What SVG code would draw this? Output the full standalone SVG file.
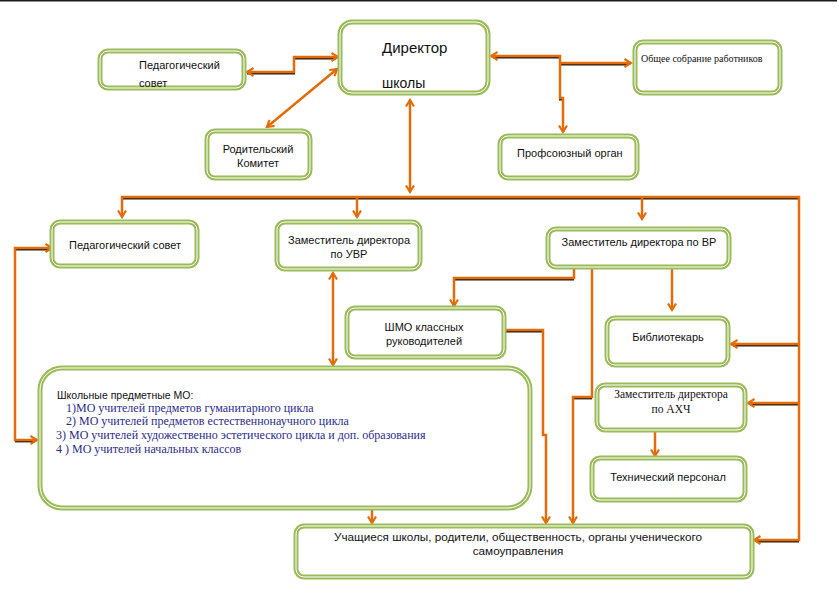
<svg xmlns="http://www.w3.org/2000/svg" width="839" height="593" viewBox="0 0 839 593">
<style>
.box{fill:#fff;stroke:#9BBB59;stroke-width:5}
.inner{fill:none;stroke:#fff;stroke-width:1}
.t{font-family:"Liberation Sans",Arial,sans-serif;font-size:11px;fill:#111}
.s{font-family:"Liberation Serif","Times New Roman",serif;font-size:11.5px;fill:#111}
.b{font-family:"Liberation Serif","Times New Roman",serif;font-size:12px;fill:#2b2b8c}
.c{fill:none;stroke:#E36C0A;stroke-width:2.5;stroke-linejoin:miter}
.sh{fill:none;stroke:#2a1a0a;stroke-width:2}
</style>
<defs>
<marker id="ah" viewBox="0 0 10 10" refX="8" refY="5" markerWidth="10" markerHeight="10" markerUnits="userSpaceOnUse" orient="auto-start-reverse">
<path d="M1.5,1 L8,5 L1.5,9" fill="none" stroke="#E36C0A" stroke-width="2.2"/>
</marker>
</defs>
<rect x="0" y="0" width="837" height="1.5" fill="#1a1a1a"/>
<g id="connectors">
<g transform="translate(0,1.4)">
<path class="sh" d="M247,72 H294 V57 H336"/>
<path class="sh" d="M494,56 H560 V98 H563"/>
<path class="sh" d="M560,63 H628"/>
<path class="sh" d="M122,197 H799"/>
<path class="sh" d="M54,248 H15"/>
<path class="sh" d="M15,440 H35"/>
<path class="sh" d="M574,278 H454"/>
<path class="sh" d="M504,330 H543"/>
<path class="sh" d="M799,344 H733"/>
<path class="sh" d="M799,403 H750"/>
<path class="sh" d="M799,540 H757"/>
<path class="sh" d="M592,397 H573"/>
</g>
<path class="c" d="M247,72 H294 V57 H338" marker-start="url(#ah)" marker-end="url(#ah)"/>
<path class="c" d="M267,127 L337,69" marker-start="url(#ah)" marker-end="url(#ah)"/>
<path class="c" d="M410,100 V192" marker-start="url(#ah)" marker-end="url(#ah)"/>
<path class="c" d="M563,132 V98 H560 V56 H491" marker-start="url(#ah)" marker-end="url(#ah)"/>
<path class="c" d="M560,63 H631" marker-end="url(#ah)"/>
<path class="c" d="M122,217 V197 H799 V540 H754" marker-start="url(#ah)" marker-end="url(#ah)"/>
<path class="c" d="M357,197 V217" marker-end="url(#ah)"/>
<path class="c" d="M642,197 V219" marker-end="url(#ah)"/>
<path class="c" d="M799,344 H731" marker-end="url(#ah)"/>
<path class="c" d="M799,403 H748" marker-end="url(#ah)"/>
<path class="c" d="M52,248 H15 V440 H37" marker-start="url(#ah)" marker-end="url(#ah)"/>
<path class="c" d="M333,273 V365" marker-start="url(#ah)" marker-end="url(#ah)"/>
<path class="c" d="M574,268 V278 H454 V306" marker-end="url(#ah)"/>
<path class="c" d="M672,268 V310" marker-end="url(#ah)"/>
<path class="c" d="M592,268 V397 H573 V523" marker-end="url(#ah)"/>
<path class="c" d="M505,330 H543 V435 H546 V523" marker-end="url(#ah)"/>
<path class="c" d="M372,509 V523" marker-end="url(#ah)"/>
<path class="c" d="M655,431 V456" marker-end="url(#ah)"/>
</g>
<g id="director">
<rect class="box" x="340" y="22" width="148" height="71" rx="12"/>
<rect class="inner" x="340" y="22" width="148" height="71" rx="12"/>
<text class="t" x="382" y="53" style="font-size:15px">Директор</text>
<text class="t" x="382" y="88" style="font-size:14px">школы</text>
</g>
<g id="ped-sovet-top">
<rect class="box" x="100" y="51" width="144" height="37" rx="8"/>
<rect class="inner" x="100" y="51" width="144" height="37" rx="8"/>
<text class="t" x="139" y="69">Педагогический</text>
<text class="t" x="139" y="87">совет</text>
</g>
<g id="roditelsky">
<rect class="box" x="207" y="131" width="103" height="47" rx="8"/>
<rect class="inner" x="207" y="131" width="103" height="47" rx="8"/>
<text class="t" x="258" y="153" text-anchor="middle">Родительский</text>
<text class="t" x="258" y="167" text-anchor="middle">Комитет</text>
</g>
<g id="obshchee">
<rect class="box" x="635" y="42" width="145" height="51" rx="8"/>
<rect class="inner" x="635" y="42" width="145" height="51" rx="8"/>
<text class="s" x="641" y="62" style="font-size:10px">Общее собрание работников</text>
</g>
<g id="profsoyuz">
<rect class="box" x="500" y="136" width="137" height="42" rx="8"/>
<rect class="inner" x="500" y="136" width="137" height="42" rx="8"/>
<text class="t" x="517" y="157">Профсоюзный орган</text>
</g>
<g id="ped-sovet">
<rect class="box" x="52" y="222" width="145" height="44" rx="8"/>
<rect class="inner" x="52" y="222" width="145" height="44" rx="8"/>
<text class="t" x="69" y="249">Педагогический совет</text>
</g>
<g id="zam-uvr">
<rect class="box" x="277" y="222" width="143" height="47" rx="8"/>
<rect class="inner" x="277" y="222" width="143" height="47" rx="8"/>
<text class="t" x="349" y="244" text-anchor="middle">Заместитель директора</text>
<text class="t" x="349" y="258" text-anchor="middle">по УВР</text>
</g>
<g id="zam-vr">
<rect class="box" x="548" y="229" width="181" height="38" rx="8"/>
<rect class="inner" x="548" y="229" width="181" height="38" rx="8"/>
<text class="t" x="639" y="246" text-anchor="middle">Заместитель директора по ВР</text>
</g>
<g id="shmo">
<rect class="box" x="347" y="308" width="157" height="49" rx="8"/>
<rect class="inner" x="347" y="308" width="157" height="49" rx="8"/>
<text class="t" x="424" y="331" text-anchor="middle">ШМО классных</text>
<text class="t" x="424" y="345" text-anchor="middle">руководителей</text>
</g>
<g id="bibliotekar">
<rect class="box" x="607" y="318" width="121" height="47" rx="8"/>
<rect class="inner" x="607" y="318" width="121" height="47" rx="8"/>
<text class="t" x="668" y="341" text-anchor="middle">Библиотекарь</text>
</g>
<g id="zam-ahch">
<rect class="box" x="597" y="385" width="148" height="45" rx="8"/>
<rect class="inner" x="597" y="385" width="148" height="45" rx="8"/>
<text class="s" x="671" y="398" text-anchor="middle">Заместитель директора</text>
<text class="s" x="671" y="413" text-anchor="middle">по АХЧ</text>
</g>
<g id="tech">
<rect class="box" x="592" y="458" width="153" height="42" rx="8"/>
<rect class="inner" x="592" y="458" width="153" height="42" rx="8"/>
<text class="t" x="668" y="481" text-anchor="middle">Технический персонал</text>
</g>
<g id="mo">
<rect class="box" x="40" y="368" width="490" height="140" rx="22"/>
<rect class="inner" x="40" y="368" width="490" height="140" rx="22"/>
<text class="t" x="57" y="399" style="font-size:10.5px">Школьные предметные МО:</text>
<text class="b" x="66" y="412">1)МО учителей предметов гуманитарного цикла</text>
<text class="b" x="66" y="425">2) МО учителей предметов естественнонаучного цикла</text>
<text class="b" x="56" y="439">3) МО учителей художественно эстетического цикла и доп. образования</text>
<text class="b" x="56" y="453">4 ) МО учителей начальных классов</text>
</g>
<g id="uchashchiesya">
<rect class="box" x="296" y="526" width="456" height="51" rx="8"/>
<rect class="inner" x="296" y="526" width="456" height="51" rx="8"/>
<text class="t" x="518" y="541" text-anchor="middle" style="font-size:11.7px">Учащиеся школы, родители, общественность, органы ученического</text>
<text class="t" x="518" y="555" text-anchor="middle" style="font-size:11.7px">самоуправления</text>
</g>
</svg>
